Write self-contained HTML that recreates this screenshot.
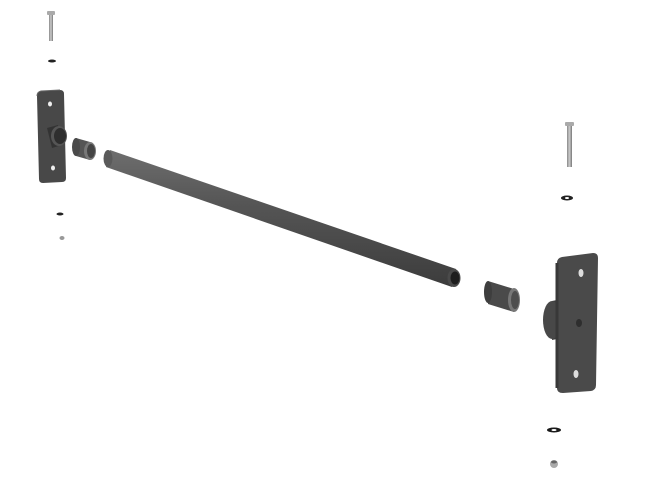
<!DOCTYPE html>
<html><head><style>html,body{margin:0;padding:0;background:#fff}</style></head><body>
<svg width="650" height="482" viewBox="0 0 650 482" xmlns="http://www.w3.org/2000/svg">
<defs>
<linearGradient id="bar" x1="0" y1="0" x2="0" y2="1"><stop offset="0" stop-color="#6e6e6e"/><stop offset="0.4" stop-color="#555"/><stop offset="1" stop-color="#3c3c3c"/></linearGradient>
<linearGradient id="bolt" x1="0" y1="0" x2="1" y2="0"><stop offset="0" stop-color="#888"/><stop offset="0.5" stop-color="#ccc"/><stop offset="1" stop-color="#777"/></linearGradient>
</defs>
<rect x="49" y="14" width="4" height="27" fill="url(#bolt)"/>
<rect x="47" y="11" width="8" height="4" rx="1" fill="#aaa"/>
<ellipse cx="52" cy="61" rx="4" ry="1.5" fill="#222"/>
<path d="M37 96 Q37 92 41 91 L60 90 Q64 90 64 94 L66 178 Q66 182 62 182 L43 183 Q39 183 39 179 Z" fill="#484848"/>
<path d="M37 96 Q37 92 41 91 L60 90" fill="none" stroke="#666" stroke-width="1"/>
<ellipse cx="50" cy="104" rx="2" ry="2.5" fill="#eee"/>
<ellipse cx="53" cy="168" rx="2" ry="2.5" fill="#eee"/>
<path d="M47 128 L58 125 L62 145 L52 148 Z" fill="#333"/>
<ellipse cx="59" cy="136" rx="8" ry="10" fill="#555"/>
<ellipse cx="60" cy="136" rx="6" ry="8" fill="#2e2e2e"/>
<path d="M76 138 L90 142 L90 160 L76 156 Z" fill="#555"/>
<ellipse cx="76" cy="147" rx="4" ry="9" fill="#4a4a4a"/>
<ellipse cx="90" cy="151" rx="6" ry="9" fill="#777"/>
<ellipse cx="91" cy="151" rx="4" ry="7" fill="#444"/>
<ellipse cx="60" cy="214" rx="3.5" ry="1.5" fill="#222"/>
<ellipse cx="62" cy="238" rx="2.5" ry="2" fill="#999"/>
<path d="M110 150 L456 269 L452 287 L106 167 Z" fill="url(#bar)"/>
<ellipse cx="108" cy="158.5" rx="4.5" ry="8.5" fill="#5a5a5a"/>
<ellipse cx="454" cy="278" rx="6.5" ry="9" fill="#4a4a4a"/>
<ellipse cx="455" cy="278" rx="4.5" ry="6.5" fill="#1e1e1e"/>
<rect x="567" y="125" width="5" height="42" fill="url(#bolt)"/>
<rect x="565" y="122" width="9" height="4" rx="1" fill="#aaa"/>
<ellipse cx="567" cy="198" rx="6" ry="2.5" fill="#222"/>
<ellipse cx="567" cy="198" rx="2" ry="1" fill="#fff"/>
<path d="M488 281 L514 289 L514 312 L488 304 Z" fill="#4a4a4a"/>
<ellipse cx="488" cy="292" rx="4" ry="11" fill="#3e3e3e"/>
<ellipse cx="514" cy="300" rx="6" ry="12" fill="#777"/>
<ellipse cx="515" cy="300" rx="4" ry="9" fill="#4e4e4e"/>
<path d="M552 301 L562 299 L562 338 L552 340 Z" fill="#3e3e3e"/>
<ellipse cx="552" cy="320" rx="9" ry="19" fill="#484848"/>
<path d="M557 263 Q557 258 562 257 L593 253 Q598 253 598 258 L596 385 Q596 390 591 391 L563 393 Q557 393 557 388 Z" fill="#4a4a4a"/>
<path d="M557 263 L557 388" stroke="#383838" stroke-width="3"/>
<ellipse cx="581" cy="273" rx="2.5" ry="4" fill="#ddd"/>
<ellipse cx="579" cy="323" rx="3" ry="4" fill="#2e2e2e"/>
<ellipse cx="576" cy="374" rx="2.5" ry="4" fill="#ddd"/>
<ellipse cx="554" cy="430" rx="7" ry="2.5" fill="#1a1a1a"/>
<ellipse cx="554" cy="430" rx="2.5" ry="1" fill="#fff"/>
<ellipse cx="554" cy="464" rx="4" ry="4" fill="#aaa"/>
<ellipse cx="554" cy="462" rx="3" ry="1.5" fill="#666"/>
</svg>
</body></html>
